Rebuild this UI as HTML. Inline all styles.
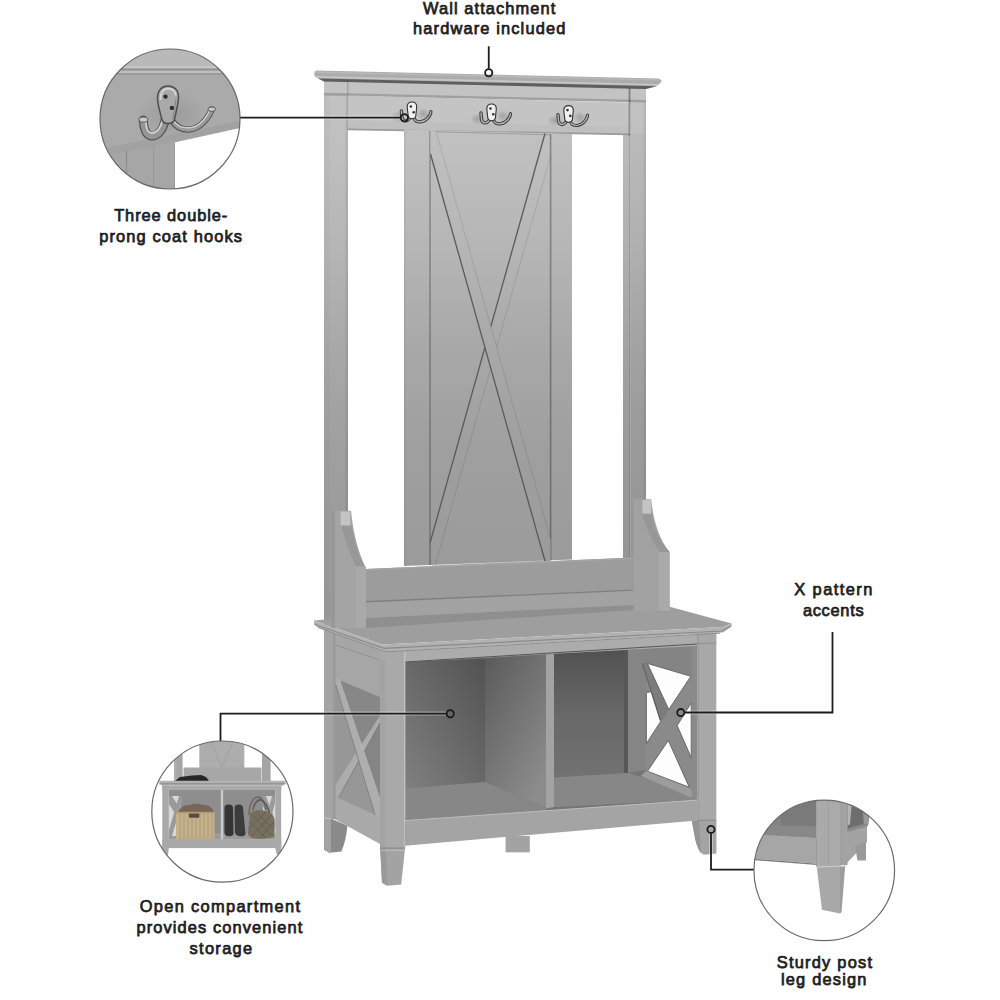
<!DOCTYPE html>
<html><head><meta charset="utf-8">
<style>
html,body{margin:0;padding:0;background:#fff;width:1000px;height:1000px;overflow:hidden}
svg{position:absolute;left:0;top:0}
.t{font-family:"Liberation Sans",sans-serif;font-weight:normal;font-size:16.4px;fill:#1e1e1e;stroke:#1e1e1e;stroke-width:0.75px;paint-order:stroke;text-anchor:middle}
</style></head><body>
<svg width="1000" height="1000" viewBox="0 0 1000 1000">
<defs>
<linearGradient id="gV" gradientUnits="userSpaceOnUse" x1="0" y1="80" x2="0" y2="620">
<stop offset="0" stop-color="#c4c4c4"/>
<stop offset="0.13" stop-color="#bfbfbf"/>
<stop offset="0.32" stop-color="#b5b5b5"/>
<stop offset="0.5" stop-color="#a8a8a8"/>
<stop offset="0.685" stop-color="#9f9f9f"/>
<stop offset="0.9" stop-color="#9b9b9b"/>
<stop offset="1" stop-color="#9a9a9a"/>
</linearGradient>
<linearGradient id="gVd" gradientUnits="userSpaceOnUse" x1="0" y1="80" x2="0" y2="620">
<stop offset="0" stop-color="#b4b4b4"/>
<stop offset="0.13" stop-color="#b0b0b0"/>
<stop offset="0.32" stop-color="#a8a8a8"/>
<stop offset="0.5" stop-color="#9d9d9d"/>
<stop offset="0.685" stop-color="#959595"/>
<stop offset="1" stop-color="#909090"/>
</linearGradient>
<linearGradient id="gCubL" x1="0" y1="1" x2="1" y2="0">
<stop offset="0" stop-color="#808080"/><stop offset="1" stop-color="#525252"/></linearGradient>
<linearGradient id="gDivS" x1="0" y1="0" x2="0.7" y2="1">
<stop offset="0" stop-color="#5a5a5a"/><stop offset="1" stop-color="#8c8c8c"/></linearGradient>
<linearGradient id="gCubR" x1="0" y1="0" x2="0" y2="1">
<stop offset="0" stop-color="#515151"/><stop offset="0.5" stop-color="#686868"/><stop offset="1" stop-color="#727272"/></linearGradient>
</defs>
<rect width="1000" height="1000" fill="#fff"/>

<!-- ===== HALL TREE UPPER ===== -->
<!-- left post (full height, becomes back-left leg) -->
<polygon points="324,80 348,80 348,620 324,620" fill="url(#gV)"/>
<rect x="324" y="80" width="6" height="540" fill="url(#gVd)" opacity="0.3"/>
<rect x="345.5" y="80" width="2.5" height="540" fill="#000" opacity="0.07"/>
<!-- right post -->
<polygon points="630.5,88 646,88 646,612 630.5,612" fill="url(#gV)"/>
<polygon points="623,134 630.5,134 630.5,612 623,612" fill="url(#gV)"/>
<rect x="623" y="134" width="23" height="478" fill="#000" opacity="0.03"/>
<rect x="643.5" y="88" width="2.5" height="524" fill="#000" opacity="0.06"/>
<rect x="629" y="88" width="1.6" height="524" fill="#000" opacity="0.12"/>
<!-- top rail: frieze + hook rail -->
<polygon points="324,80 646,88 646,101.5 324,94" fill="#c3c3c3"/>
<polygon points="324,92.8 646,100 646,102.4 324,95.6" fill="#a0a0a0"/>
<polygon points="348,95.6 629,102.4 629,134.4 348,129" fill="#c4c4c4"/>
<polygon points="348,120.5 629,126.5 629,134.4 348,129" fill="#bfbfbf"/>
<polygon points="348,128.4 629,133.6 629,135.2 348,130.2" fill="#9a9a9a"/>
<rect x="347" y="80" width="1.2" height="50" fill="#000" opacity="0.08"/>
<!-- crown -->
<polygon points="316,70.6 659,78.6 661.5,80.3 661,82.5 657,85.5 646,88.6 646,89 324,81.2 319.5,79.6 315,76.5 314,73.5" fill="#acacac"/>
<polygon points="314.5,71.2 659.5,79.2 661,80.5 316,73" fill="#b8b8b8"/>
<polygon points="315,76 657.5,84 656.5,85.5 317.5,77.8" fill="#c6c6c6"/>
<polygon points="319,78.6 657,86.2 646,89 324,81.6" fill="#5e5e5e"/>

<!-- center panel -->
<polygon points="404,129.5 572,134 572,559.5 404,566" fill="url(#gV)"/>
<rect x="429.2" y="131" width="1.6" height="434" fill="#000" opacity="0.26"/>
<rect x="549.8" y="134" width="1.6" height="426" fill="#000" opacity="0.3"/>
<rect x="404" y="130" width="1.5" height="436" fill="#000" opacity="0.05"/>
<line x1="430" y1="131.6" x2="550" y2="134.8" stroke="#000" stroke-opacity="0.18" stroke-width="1"/>
<line x1="432" y1="566" x2="548" y2="561" stroke="#000" stroke-opacity="0.3" stroke-width="1"/>
<!-- X boards: right board (under) -->
<line x1="545" y1="133.5" x2="430" y2="543" stroke="#5a5a5a" stroke-width="1.3"/>
<line x1="550.5" y1="156" x2="435" y2="566" stroke="#000" stroke-opacity="0.1" stroke-width="1"/>
<!-- left board (over) -->
<polygon points="430.5,131 436,131 550.5,539 550.5,561 545,561 430.5,154" fill="url(#gV)"/>
<line x1="430.5" y1="154" x2="545" y2="561" stroke="#5a5a5a" stroke-width="1.3"/>
<line x1="436" y1="131" x2="550.5" y2="539" stroke="#000" stroke-opacity="0.1" stroke-width="1"/>
<rect x="628.6" y="88.3" width="1.8" height="47" fill="#000" opacity="0.35"/>
<rect x="347.2" y="80.5" width="1.2" height="14" fill="#000" opacity="0.12"/>

<!-- small hooks -->
<defs>
<radialGradient id="hsh" cx="0.5" cy="0.5" r="0.5"><stop offset="0" stop-color="#000" stop-opacity="0.18"/><stop offset="1" stop-color="#000" stop-opacity="0"/></radialGradient>
</defs>
<g>
<ellipse cx="478" cy="119" rx="8" ry="6" fill="url(#hsh)"/>
<ellipse cx="503" cy="116" rx="7" ry="6" fill="url(#hsh)"/>
<path d="M489,120.5 C486.5,124 482.5,123.5 481.5,119.5 L481,113" fill="none" stroke="#3e3e3e" stroke-width="3.4" stroke-linecap="round"/>
<path d="M489,120.5 C486.5,124 482.5,123.5 481.5,119.5 L481,113" fill="none" stroke="#b8b8b8" stroke-width="1.3" stroke-linecap="round"/>
<path d="M493.5,120.5 C496,125.5 503,124.5 507,120.5 C509,118.5 510.5,116 510.5,113.5" fill="none" stroke="#3e3e3e" stroke-width="3.2" stroke-linecap="round"/>
<path d="M493.5,120.5 C496,125.5 503,124.5 507,120.5 C509,118.5 510.5,116 510.5,113.5" fill="none" stroke="#bcbcbc" stroke-width="1.2" stroke-linecap="round"/>
<path d="M486.8,109 C486.8,105.8 488.8,104 491.6,104 C494.4,104 496.3,105.8 496.3,109 L495.4,118 C495,120 494,120.7 491.6,120.7 C489.2,120.7 488.2,120 487.8,118 Z" fill="#f0f0f0" stroke="#333" stroke-width="1.1"/>
<circle cx="490.5" cy="108.5" r="1.3" fill="#333"/>
<circle cx="493.3" cy="114.3" r="1.3" fill="#333"/>
</g>
<g transform="translate(-79.6,-2)">
<ellipse cx="478" cy="119" rx="8" ry="6" fill="url(#hsh)"/>
<ellipse cx="503" cy="116" rx="7" ry="6" fill="url(#hsh)"/>
<path d="M489,120.5 C486.5,124 482.5,123.5 481.5,119.5 L481,113" fill="none" stroke="#3e3e3e" stroke-width="3.4" stroke-linecap="round"/>
<path d="M489,120.5 C486.5,124 482.5,123.5 481.5,119.5 L481,113" fill="none" stroke="#b8b8b8" stroke-width="1.3" stroke-linecap="round"/>
<path d="M493.5,120.5 C496,125.5 503,124.5 507,120.5 C509,118.5 510.5,116 510.5,113.5" fill="none" stroke="#3e3e3e" stroke-width="3.2" stroke-linecap="round"/>
<path d="M493.5,120.5 C496,125.5 503,124.5 507,120.5 C509,118.5 510.5,116 510.5,113.5" fill="none" stroke="#bcbcbc" stroke-width="1.2" stroke-linecap="round"/>
<path d="M486.8,109 C486.8,105.8 488.8,104 491.6,104 C494.4,104 496.3,105.8 496.3,109 L495.4,118 C495,120 494,120.7 491.6,120.7 C489.2,120.7 488.2,120 487.8,118 Z" fill="#f0f0f0" stroke="#333" stroke-width="1.1"/>
<circle cx="490.5" cy="108.5" r="1.3" fill="#333"/>
<circle cx="493.3" cy="114.3" r="1.3" fill="#333"/>
</g>
<g transform="translate(77,1.6)">
<ellipse cx="478" cy="119" rx="8" ry="6" fill="url(#hsh)"/>
<ellipse cx="503" cy="116" rx="7" ry="6" fill="url(#hsh)"/>
<path d="M489,120.5 C486.5,124 482.5,123.5 481.5,119.5 L481,113" fill="none" stroke="#3e3e3e" stroke-width="3.4" stroke-linecap="round"/>
<path d="M489,120.5 C486.5,124 482.5,123.5 481.5,119.5 L481,113" fill="none" stroke="#b8b8b8" stroke-width="1.3" stroke-linecap="round"/>
<path d="M493.5,120.5 C496,125.5 503,124.5 507,120.5 C509,118.5 510.5,116 510.5,113.5" fill="none" stroke="#3e3e3e" stroke-width="3.2" stroke-linecap="round"/>
<path d="M493.5,120.5 C496,125.5 503,124.5 507,120.5 C509,118.5 510.5,116 510.5,113.5" fill="none" stroke="#bcbcbc" stroke-width="1.2" stroke-linecap="round"/>
<path d="M486.8,109 C486.8,105.8 488.8,104 491.6,104 C494.4,104 496.3,105.8 496.3,109 L495.4,118 C495,120 494,120.7 491.6,120.7 C489.2,120.7 488.2,120 487.8,118 Z" fill="#f0f0f0" stroke="#333" stroke-width="1.1"/>
<circle cx="490.5" cy="108.5" r="1.3" fill="#333"/>
<circle cx="493.3" cy="114.3" r="1.3" fill="#333"/>
</g>

<!-- ===== BENCH BACK / ARMS ===== -->
<!-- back rail -->
<polygon points="366,569 633.6,557.6 633.6,605 366,618" fill="#9c9c9c"/>
<polygon points="366,601.5 633.6,590 633.6,605 366,618" fill="#a2a2a2"/>
<polygon points="366,601 633.6,589.5 633.6,590.8 366,602.4" fill="#808080"/>
<polygon points="366,569 633.6,557.6 633.6,559 366,570.5" fill="#a4a4a4"/>

<!-- ===== LOWER CABINET ===== -->
<!-- back-left post/leg below seat -->
<polygon points="324,620 336,624 336,819 324,819" fill="#a4a4a4"/>
<path d="M324,817.6 L331,818.6 L347.4,825.8 C346.5,836 344.5,844 341.4,851.6 L329.4,852.8 L324,849.8 Z" fill="#8a8a8a"/>
<path d="M324,817.6 L331,818.6 L331,852.5 L329.4,852.8 L324,849.8 Z" fill="#a3a3a3"/>
<line x1="324" y1="817.8" x2="331" y2="818.8" stroke="#d0d0d0" stroke-width="0.8"/>
<!-- left side face (top rail) -->
<polygon points="334,632.4 386,651.6 386,700 334,679" fill="#a6a6a6"/>
<polyline points="334,644.4 385.6,662" fill="none" stroke="#8e8e8e" stroke-width="0.9"/>
<!-- side opening (interior) -->
<polygon points="335.2,678.8 380,697.2 380,818 335.2,796.4" fill="#909090"/>
<polygon points="339,680 380,697.2 380,716 359,754" fill="#878787"/>
<polygon points="380,723 380,800 359,754" fill="#858585"/>
<polygon points="335.2,683 359,754 335.2,785" fill="#979797"/>
<polygon points="339,796.4 359,754 376,818 335.2,796.4" fill="#979797"/>
<!-- side X boards -->
<polygon points="380,715.6 380,722.8 339.2,796.4 335.2,796.4 335.2,785.2" fill="#acacac"/>
<line x1="380" y1="723" x2="339.2" y2="796.6" stroke="#777" stroke-width="0.8"/>
<polygon points="335.2,678.8 339.5,679.6 380,799 380,818 376,818 335.2,683" fill="#aeaeae"/>
<line x1="335.4" y1="683.5" x2="376" y2="818" stroke="#7a7a7a" stroke-width="0.8"/>
<line x1="339.5" y1="679.8" x2="380" y2="799" stroke="#c0c0c0" stroke-width="0.6"/>
<!-- side bottom rail -->
<polygon points="334,796 380,817 380,844 334,818.8" fill="#a9a9a9"/>
<!-- side vertical stiles -->
<rect x="333" y="632" width="2.5" height="187" fill="#9a9a9a"/>

<!-- cabinet base fill -->
<polygon points="405,662 697,644 697,800 405,822" fill="#757575"/>
<!-- left cubby -->
<polygon points="405,662 485,658.5 485,782 405,788.5" fill="url(#gCubL)"/>
<polygon points="485,658.5 546,654.5 546,808 485,782" fill="url(#gDivS)"/>
<polygon points="405,788.5 485,782 546,808 546,812 405,822" fill="#878787"/>
<!-- right cubby -->
<polygon points="554,653.5 628,650 628,773 554,777.5" fill="url(#gCubR)"/>
<polygon points="628,650 645,649 645,770 628,773" fill="#858585"/>
<rect x="624" y="650" width="4" height="123" fill="#575757"/>
<polygon points="554,777.5 628,773 692,792 697,800 554,807" fill="#878787"/>
<!-- right inner side panel with X -->
<polygon points="645,649 697,646 697,800 692,792 645,771" fill="#848484"/>
<polygon points="646,663 691.6,676 691.6,789 646,771" fill="#8a8a8a"/>
<!-- board A thickness face -->
<polygon points="642.2,663.5 647,662.8 668.8,710.3 661,722 646,675.3" fill="#7c7c7c"/>
<!-- white triangles -->
<g fill="#fdfdfd" stroke="#555" stroke-width="0.8" stroke-linejoin="round">
<polygon points="647.5,663.5 690.8,676.3 668.8,709.5"/>
<polygon points="646.4,692.5 651.2,691.8 660.6,721.5 646.4,743.5"/>
<polygon points="691.2,703 677.2,725.6 691.2,757.5"/>
<polygon points="668.3,740.5 647.5,771.2 689.2,787.2"/>
</g>
<line x1="642.2" y1="663.5" x2="660.4" y2="720" stroke="#555" stroke-width="0.8"/>
<!-- side panel bottom rail top -->
<polygon points="646,771 691.6,789 697,800 690,797 641,776" fill="#9c9c9c"/>
<rect x="691.6" y="646" width="5.8" height="154" fill="#8a8a8a"/>
<!-- divider front -->
<polygon points="546,654.5 554,654 554,807 546,808.5" fill="#a3a3a3"/>
<!-- front top apron -->
<polygon points="386,651.6 720,633.2 716.2,633.5 716.2,645 405,662 386,662" fill="#acacac"/>
<polyline points="405,662 697,644" fill="none" stroke="#555" stroke-width="1"/>
<!-- front-left leg -->
<polygon points="380,650 405,650.8 405,848 380.2,848" fill="#a9a9a9"/>
<path d="M380.2,848 L404.8,848 L404.8,850.4 L401.2,884.6 L387.4,885.8 L382,882.8 Z" fill="#a3a3a3"/>
<path d="M380.2,848 L385.6,848.5 L387.4,885.8 L382,882.8 Z" fill="#999"/>
<line x1="381" y1="850.3" x2="404.5" y2="850.3" stroke="#c4c4c4" stroke-width="0.9"/>
<rect x="380" y="660" width="5.6" height="188" fill="#a3a3a3"/>
<rect x="404" y="651" width="1.4" height="197" fill="#c0c0c0"/>
<rect x="380" y="847.5" width="25" height="1.2" fill="#8e8e8e"/>
<!-- front bottom rail -->
<polygon points="405,820.4 697,800 697,820.4 405,845.7" fill="#a4a4a4"/>
<line x1="405" y1="820.6" x2="697" y2="800.2" stroke="#bcbcbc" stroke-width="1"/>
<!-- middle back leg -->
<rect x="505.6" y="836" width="24.2" height="16.3" fill="#a3a3a3"/>
<!-- front-right leg -->
<polygon points="697.3,632 716.3,631 716.3,820.4 697.3,820.4" fill="#a8a8a8"/>
<path d="M691.8,820.4 L716.4,820.4 L716.4,853.6 L703.6,854.8 C699.5,852 696.5,846 695,838 C694,832 692.8,826 691.8,820.4 Z" fill="#a4a4a4"/>
<path d="M691.8,820.4 L699,820.6 L701,853.6 C698.5,850.5 696.5,845 695,838 C694,832 692.8,826 691.8,820.4 Z" fill="#959595"/>
<rect x="697.3" y="819.8" width="18.9" height="1.2" fill="#8e8e8e"/>
<line x1="698" y1="643.5" x2="716" y2="643" stroke="#8c8c8c" stroke-width="0.9"/>
<line x1="698" y1="632" x2="698" y2="820" stroke="#8c8c8c" stroke-width="0.9"/>

<!-- ===== SEAT ===== -->
<!-- seat top surface -->
<polygon points="314,620.5 382.4,644.5 723,627 731.6,623.6 669.6,606.8 633.6,605 366,618 331,619" fill="#9e9e9e"/>
<polygon points="366,618 633.6,605 669.6,607 669.6,612 633.6,610 366,628" fill="#8f8f8f"/>
<!-- seat lip (side + front) -->
<polygon points="314,620.5 382.4,644.5 723,627 731.6,623.6 731.6,626.5 723,632.5 386,651.6 318,627.5 314,624.5" fill="#b2b2b2"/>
<polyline points="315,624.5 384,648.3 722,631 731,626" fill="none" stroke="#8a8a8a" stroke-width="1.2"/>
<polyline points="318,627.5 386,651.8 720,633.2" fill="none" stroke="#8e8e8e" stroke-width="1"/>

<!-- left arm -->
<path d="M331.4,510.8 L351,510.8 C353,530 357,550 365.8,568 L365.8,628 L331.4,628 Z" fill="#a4a4a4"/>
<path d="M341,525.6 L351,524 C353,535 357,552 365.8,568 L355.4,566.4 C350,552 344,538 341,525.6 Z" fill="#989898"/>
<rect x="355.4" y="566.4" width="10.4" height="61.6" fill="#a9a9a9"/>
<rect x="331.4" y="510.8" width="3.6" height="117" fill="#000" opacity="0.08"/>
<rect x="340.6" y="511.5" width="9.6" height="14" fill="#c4c4c4"/>
<!-- right arm -->
<path d="M633.6,499.2 L651.2,499.2 C653,518 658,538 669.6,552 L669.6,611.2 L633.6,611.2 Z" fill="#a2a2a2"/>
<path d="M642.4,513.6 L651.2,512 C653,525 658,540 669.6,552 L659.2,552 C652,540 645,527 642.4,513.6 Z" fill="#979797"/>
<rect x="659.2" y="552" width="10.4" height="59.2" fill="#aaaaaa"/>
<rect x="642.4" y="500" width="8.8" height="13.6" fill="#c4c4c4"/>


<!-- ===== CALLOUT LINES ===== -->
<g stroke="#fff" stroke-opacity="0.35" stroke-width="4" fill="none">
<line x1="488.75" y1="46.3" x2="488.75" y2="68.6"/>
<line x1="240" y1="117.6" x2="400" y2="117.6"/>
<polyline points="220.5,741 220.5,713.6 446,713.6"/>
<polyline points="685,712.5 832.5,712.5 832.5,632"/>
<polyline points="711,833.5 711,869.6 754,869.6"/>
</g>
<g stroke="#1c1c1c" stroke-width="1.8" fill="none">
<line x1="488.75" y1="46.3" x2="488.75" y2="68.6"/>
<line x1="240" y1="117.6" x2="400" y2="117.6"/>
<polyline points="220.5,741 220.5,713.6 446,713.6"/>
<polyline points="685,712.5 832.5,712.5 832.5,632"/>
<polyline points="711,833.5 711,869.6 754,869.6"/>
</g>
<g stroke="#1a1a1a" stroke-width="1.8" fill="none">
<circle cx="488.75" cy="72.8" r="3.6"/>
<circle cx="404.4" cy="117.8" r="3.6"/>
<circle cx="450.2" cy="713.7" r="3.6"/>
<circle cx="680.8" cy="712.6" r="3.6"/>
<circle cx="711" cy="829.4" r="3.6"/>
</g>

<!-- ===== CALLOUT CIRCLES ===== -->

<clipPath id="c1"><circle cx="170" cy="119" r="70"/></clipPath>
<g clip-path="url(#c1)">
<rect x="95" y="45" width="150" height="150" fill="#a8a8a8"/>
<rect x="95" y="45" width="150" height="22.5" fill="#b9b9b9"/>
<rect x="95" y="66.4" width="150" height="2.2" fill="#c8c8c8"/>
<rect x="95" y="68.6" width="150" height="2" fill="#8e8e8e"/>
<rect x="95" y="70.6" width="150" height="2.4" fill="#bebebe"/>
<rect x="95" y="73" width="150" height="2" fill="#9c9c9c"/>
<polygon points="95,75 245,75 245,124 95,156" fill="#aaaaaa"/>
<polygon points="95,150 245,120 245,127 95,158" fill="#a2a2a2"/>
<polygon points="95,158 174.5,142.5 174.5,195 95,195" fill="#a6a6a6"/>
<polygon points="174.5,142.5 245,127 245,195 174.5,195" fill="#ffffff"/>
<line x1="126.5" y1="150" x2="126.5" y2="195" stroke="#8c8c8c" stroke-width="1.2"/>
<line x1="153.5" y1="146" x2="153.5" y2="195" stroke="#999" stroke-width="1"/>
<line x1="174.5" y1="142.5" x2="174.5" y2="195" stroke="#999" stroke-width="1"/>
<!-- big hook -->
<ellipse cx="172" cy="114" rx="36" ry="24" fill="url(#hsh)" opacity="0.5"/>
<path d="M165,120 C163.5,129.5 158,136 151.5,136 C146,136 143.5,128 143.2,120" fill="none" stroke="#555" stroke-width="9" stroke-linecap="round"/>
<path d="M165,120 C163.5,129.5 158,136 151.5,136 C146,136 143.5,128 143.2,120" fill="none" stroke="#969696" stroke-width="6.4" stroke-linecap="round"/>
<path d="M162.2,121 C160.8,128 156.5,133 151.8,133 C148,133 146.2,128 145.8,122" fill="none" stroke="#d2d2d2" stroke-width="1.8" stroke-linecap="round"/>
<path d="M172.3,121 C176,127 181,129.6 188,129.6 C198,129.6 207,121 211.8,109.6" fill="none" stroke="#555" stroke-width="6.4" stroke-linecap="round"/>
<path d="M172.3,121 C176,127 181,129.6 188,129.6 C198,129.6 207,121 211.8,109.6" fill="none" stroke="#999" stroke-width="4.2" stroke-linecap="round"/>
<path d="M173.5,120.8 C177,126 181.5,127.8 188,127.8 C197,127.8 205,120.5 209.5,110.5" fill="none" stroke="#d6d6d6" stroke-width="1.3" stroke-linecap="round"/>
<ellipse cx="143.3" cy="119.6" rx="4.4" ry="2.6" fill="#c8c8c8" stroke="#555" stroke-width="1"/>
<ellipse cx="211.8" cy="109.2" rx="3.8" ry="2.3" fill="#c8c8c8" stroke="#555" stroke-width="1"/>
<path d="M157.5,98 C157.5,90 162,85.9 168,85.9 C174,85.9 178.5,90 178.5,97 C178.5,103 176,112 174.6,119 C173.9,122 171,123.6 168,123.6 C165,123.6 162.4,122 161.8,119 C160,112 157.5,104 157.5,98 Z" fill="#a9a9a9" stroke="#4e4e4e" stroke-width="1.5"/>
<path d="M160.3,100 C160.2,92.5 163.4,88.6 168,88.6 C172.3,88.6 175.4,91.2 175.8,95.5" fill="none" stroke="#d8d8d8" stroke-width="1.7"/>
<path d="M175.8,99 C175.5,106 173.8,113 172.6,119" fill="none" stroke="#888" stroke-width="1.2"/>
<circle cx="165.5" cy="96.6" r="2.2" fill="#2e2e2e"/>
<circle cx="171.9" cy="107.9" r="2.2" fill="#2e2e2e"/>
</g>
<circle cx="170" cy="119" r="70" fill="none" stroke="#6a6a6a" stroke-width="1.2"/>


<clipPath id="c2"><circle cx="222.4" cy="811.6" r="70.6"/></clipPath>
<g clip-path="url(#c2)">
<rect x="150" y="740" width="150" height="150" fill="#ffffff"/>
<!-- upper: posts, panel, arms -->
<rect x="174" y="740" width="8.6" height="42" fill="#a6a6a6"/>
<rect x="174" y="740" width="2.5" height="42" fill="#b0b0b0"/>
<rect x="262" y="740" width="8.6" height="42" fill="#a4a4a4"/>
<rect x="199.3" y="740" width="45" height="42" fill="#adadad"/>
<rect x="183.5" y="767.5" width="78" height="14" fill="#a7a7a7"/>
<line x1="210" y1="740" x2="222" y2="767" stroke="#9c9c9c" stroke-width="0.7"/>
<line x1="234" y1="740" x2="222" y2="767" stroke="#9c9c9c" stroke-width="0.7"/>
<!-- black item -->
<path d="M175,781 L180,777 L192,775.5 L201,775 L206,777 L209,780.5 L206,781.5 Z" fill="#262626"/>
<!-- seat -->
<polygon points="159.4,780.7 285.6,780.7 285.6,783 283,785.8 162,785.8 159.4,783" fill="#b1b1b1"/>
<rect x="159.4" y="783.2" width="126.2" height="1.2" fill="#8e8e8e"/>
<!-- apron -->
<rect x="162.3" y="785.8" width="119" height="4.5" fill="#ababab"/>
<!-- cubby interior -->
<rect x="168.8" y="790" width="106.6" height="49.5" fill="#8e8e8e"/>
<rect x="168.8" y="833" width="106.6" height="6.5" fill="#9a9a9a"/>
<!-- side X panels (white openings) -->
<polygon points="169,796 181,796 181,836 169,836" fill="#d8d8d8"/>
<polygon points="169,796 172,796 182,812 182,820 179,820 169,804" fill="#9a9a9a"/>
<polygon points="182,796 182,802 172,836 169,836 169,830 179,796" fill="#9a9a9a"/>
<polygon points="263,796 275,796 275,836 263,836" fill="#d8d8d8"/>
<polygon points="263,796 266,796 275,820 275,828 272,828 263,806" fill="#9a9a9a"/>
<polygon points="275,796 275,803 266,836 263,836 263,829 272,796" fill="#9a9a9a"/>
<!-- basket contents -->
<path d="M178,812 C180,807 185,804.5 190,805 C194,803 199,803.5 203,805 C208,804.5 212,807 214,812 Z" fill="#786656"/>
<!-- basket -->
<rect x="176" y="811.9" width="38.5" height="26.8" fill="#c5b18c"/>
<g stroke="#a8946e" stroke-width="0.8">
<line x1="180" y1="812" x2="180" y2="838.5"/><line x1="184" y1="812" x2="184" y2="838.5"/>
<line x1="188" y1="812" x2="188" y2="838.5"/><line x1="192" y1="812" x2="192" y2="838.5"/>
<line x1="196" y1="812" x2="196" y2="838.5"/><line x1="200" y1="812" x2="200" y2="838.5"/>
<line x1="204" y1="812" x2="204" y2="838.5"/><line x1="208" y1="812" x2="208" y2="838.5"/>
<line x1="212" y1="812" x2="212" y2="838.5"/>
</g>
<rect x="189" y="813.3" width="10.3" height="4.4" rx="1" fill="#5a4a3a"/>
<rect x="176" y="811.9" width="38.5" height="1.5" fill="#b09c78"/>
<!-- boots -->
<path d="M224.5,808 C224.5,805 227,804.5 229,804.5 C231,804.5 233,805.5 233,808 L233.5,834 C233,836 230,836.5 227.5,836 C225,835.5 224.5,834 224.5,832 Z" fill="#353535"/>
<path d="M234.5,808 C234.5,805 237,804.5 239,804.5 C241,804.5 243,805.5 243,808 L245.5,834 C245,836.5 241.5,836.5 239,836 C236,835.5 235,834 235,832 Z" fill="#3c3c3c"/>
<!-- bag -->
<path d="M249,815 C249,805 253,797 258,797 C263,797 265,805 266,810" fill="none" stroke="#6e6a62" stroke-width="1.6"/>
<path d="M253,810 C254,803 258,799 261,800 C265,801 268,807 270,815" fill="none" stroke="#5e5a52" stroke-width="1.6"/>
<path d="M250,815 C250,812 254,810 259,810 C266,810 272,813 274,818 L274.7,836 C272,838.5 262,839 255,838.5 C250,838 248,836 248,832 Z" fill="#77705f"/>
<g stroke="#5a5446" stroke-width="0.7" opacity="0.8">
<line x1="252" y1="814" x2="272" y2="836"/><line x1="256" y1="812" x2="274" y2="830"/>
<line x1="250" y1="822" x2="266" y2="838"/><line x1="272" y1="814" x2="252" y2="836"/>
<line x1="266" y1="812" x2="249" y2="828"/><line x1="274" y1="822" x2="260" y2="838"/>
</g>
<!-- divider -->
<rect x="220.8" y="790" width="2.4" height="49.5" fill="#cacaca"/>
<!-- bottom rail -->
<rect x="162.3" y="839.4" width="119" height="8.7" fill="#a8a8a8"/>
<!-- legs -->
<polygon points="162.3,785.8 168.8,785.8 168.8,848 168,855.4 163.5,855.4 162.3,848" fill="#a9a9a9"/>
<polygon points="275.4,785.8 281.2,785.8 281.2,848 280,854 276.5,854 275.4,848" fill="#a9a9a9"/>
</g>
<circle cx="222.4" cy="811.6" r="70.6" fill="none" stroke="#6a6a6a" stroke-width="1.2"/>


<clipPath id="c3"><circle cx="824.25" cy="870.4" r="70.3"/></clipPath>
<g clip-path="url(#c3)">
<rect x="750" y="795" width="150" height="150" fill="#ffffff"/>
<!-- interior above rail -->
<polygon points="750,795 817,795 817,838 750,835" fill="#7a7a7a"/>
<polygon points="750,800 781,800 781,826 750,826" fill="#838383"/>
<polygon points="750,825 817,826 817,838 750,835" fill="#888888"/>
<!-- front bottom rail -->
<polygon points="750,834 817,838 817,863.8 750,858.4" fill="#a6a6a6"/>
<polygon points="750,858.4 817,863.8 817,865 750,859.8" fill="#7a7a7a"/>
<!-- side panel region -->
<polygon points="846,795 872,795 868,826 846,832" fill="#6e6e6e"/>
<polygon points="847.5,800 852,800 850,824 847.5,826" fill="#b4b4b4"/>
<polygon points="862,800 870,800 868,826 864,827" fill="#9a9a9a"/>
<!-- side rail -->
<polygon points="846,832 867,826 867,841.8 846,864" fill="#a3a3a3"/>
<polygon points="846,829 867,823 867,826.5 846,832.5" fill="#8a8a8a"/>
<!-- back leg -->
<polygon points="855,846 866,841 866,860.5 857.5,860.5" fill="#9a9a9a"/>
<!-- corner post -->
<rect x="816.2" y="795" width="25" height="72" fill="#aaaaaa"/>
<rect x="841" y="795" width="6.5" height="70" fill="#a2a2a2"/>
<line x1="828.5" y1="798" x2="828.5" y2="865" stroke="#9c9c9c" stroke-width="0.8"/>
<line x1="841" y1="798" x2="841" y2="865" stroke="#999" stroke-width="0.9"/>
<line x1="816.5" y1="838" x2="816.5" y2="866" stroke="#989898" stroke-width="0.8"/>
<!-- foot -->
<polygon points="816.75,867 840,867 840,913.5 822,909.75" fill="#a8a8a8"/>
<polygon points="840,867 845.25,865.5 841.5,912 840,913.5" fill="#9d9d9d"/>
<line x1="816.75" y1="867" x2="846" y2="866" stroke="#cfcfcf" stroke-width="1"/>
</g>
<circle cx="824.25" cy="870.4" r="70.3" fill="none" stroke="#6a6a6a" stroke-width="1.2"/>


<!-- ===== TEXT ===== -->
<text class="t" x="489.75" y="13.6" letter-spacing="1.09">Wall attachment</text>
<text class="t" x="489.75" y="34.4" letter-spacing="1.14">hardware included</text>
<text class="t" x="171.20" y="220.6" letter-spacing="0.92">Three double-</text>
<text class="t" x="171.20" y="242" letter-spacing="1.13">prong coat hooks</text>
<text class="t" x="834.00" y="595.4" letter-spacing="1.46">X pattern</text>
<text class="t" x="833.60" y="615.6" letter-spacing="0.7">accents</text>
<text class="t" x="220.50" y="912.2" letter-spacing="1.33">Open compartment</text>
<text class="t" x="220.00" y="933.2" letter-spacing="1.11">provides convenient</text>
<text class="t" x="221.50" y="954.2" letter-spacing="1.33">storage</text>
<text class="t" x="825.00" y="968" letter-spacing="1.23">Sturdy post</text>
<text class="t" x="824.30" y="984.9" letter-spacing="1.2">leg design</text>
</svg>
</body></html>
